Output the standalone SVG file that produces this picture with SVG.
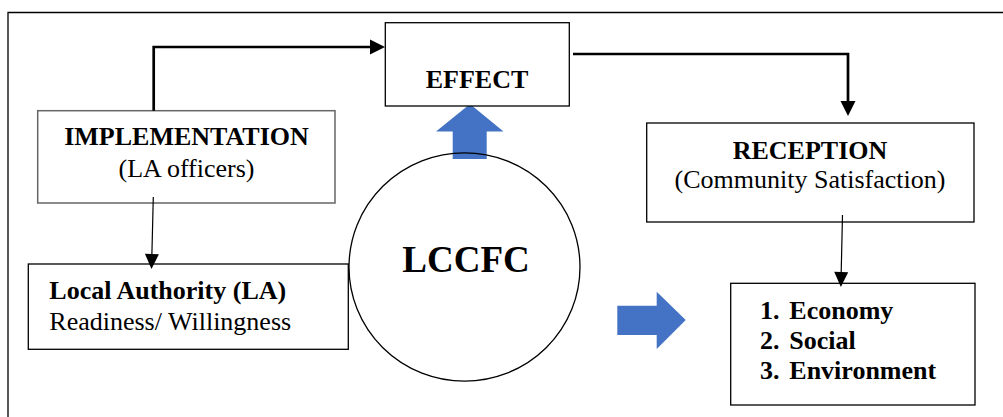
<svg xmlns="http://www.w3.org/2000/svg" width="1003" height="417" viewBox="0 0 1003 417" font-family="'Liberation Serif', 'DejaVu Serif', serif">
<defs>
<style>
text{font-family:'Liberation Serif','DejaVu Serif',serif}
.t{font-size:26px;fill:#000}
.b{font-weight:bold}
.box{fill:#fff;stroke:#000;stroke-width:1.3}
.gbox{fill:#fff;stroke:#666;stroke-width:1.5}
.thick{fill:none;stroke:#000;stroke-width:2.7}
.thin{fill:none;stroke:#000;stroke-width:1.2}
.blue{fill:#4472C4}
</style>
<marker id="hk" markerUnits="userSpaceOnUse" markerWidth="16" markerHeight="16" refX="0" refY="7.5" orient="auto" overflow="visible">
<path d="M0,0 L15,7.5 L0,15 Z" fill="#000"/>
</marker>
<marker id="hn" markerUnits="userSpaceOnUse" markerWidth="16" markerHeight="16" refX="0" refY="7" orient="auto" overflow="visible">
<path d="M0,0 L15,7 L0,14 Z" fill="#000"/>
</marker>
</defs>
<rect width="1003" height="417" fill="#fff"/>
<path d="M8,417 V12.5 H1003" fill="none" stroke="#000" stroke-width="1.3"/>

<g id="up-arrow">
<path class="blue" d="M470,104 L503.5,131.5 L486.7,131.5 L486.7,159 L452.7,159 L452.7,131.5 L436,131.5 Z"/>
</g>
<g id="right-arrow">
<path class="blue" d="M617.3,305.7 L656.7,305.7 L656.7,291.7 L685.7,320 L656.7,349 L656.7,335 L617.3,335 Z"/>
</g>

<g id="effect">
<rect class="box" x="385.3" y="22.7" width="184" height="83.3"/>
<text class="t b" x="477" y="88.3" text-anchor="middle">EFFECT</text>
</g>

<g id="implementation">
<rect class="gbox" x="37.7" y="110.7" width="297.3" height="92.3"/>
<text class="t b" x="186.5" y="145.3" text-anchor="middle">IMPLEMENTATION</text>
<text class="t" x="186.5" y="176.7" text-anchor="middle">(LA officers)</text>
</g>

<g id="reception">
<rect class="box" x="646.7" y="123" width="327.3" height="99"/>
<text class="t b" x="810" y="159" text-anchor="middle">RECEPTION</text>
<text class="t" x="810" y="188" text-anchor="middle">(Community Satisfaction)</text>
</g>

<g id="local-authority">
<rect class="box" x="28.3" y="264" width="320" height="85.3"/>
<text class="t b" x="49.3" y="299">Local Authority (LA)</text>
<text class="t" x="49.3" y="330">Readiness/ Willingness</text>
</g>

<g id="lccfc">
<ellipse cx="464.5" cy="267" rx="115.5" ry="114.2" fill="none" stroke="#000" stroke-width="1.3"/>
<text class="t b" x="466" y="272.3" text-anchor="middle" style="font-size:37px">LCCFC</text>
</g>

<g id="outcomes">
<rect class="box" x="730.7" y="283.3" width="244.3" height="121.7"/>
<text class="t b" x="760" y="319">1.</text>
<text class="t b" x="789.3" y="319">Economy</text>
<text class="t b" x="760" y="349">2.</text>
<text class="t b" x="789.3" y="349">Social</text>
<text class="t b" x="760" y="379.3">3.</text>
<text class="t b" x="789.3" y="379.3">Environment</text>
</g>

<g id="connectors">
<path class="thick" d="M153.7,110.7 V47 H370" marker-end="url(#hk)"/>
<path class="thick" d="M573,54 H848 V101" marker-end="url(#hk)"/>
<path class="thin" d="M153.3,197 L151.9,254" marker-end="url(#hn)"/>
<path class="thin" d="M842.5,215 L841.2,272" marker-end="url(#hn)"/>
</g>
</svg>
